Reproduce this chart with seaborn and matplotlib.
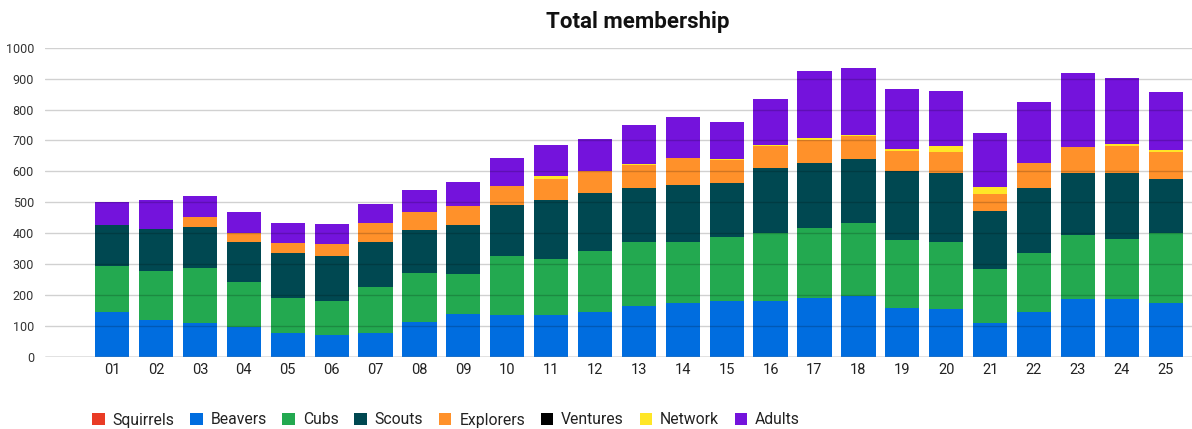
import numpy as np
import pandas as pd
import matplotlib
matplotlib.use("Agg")
import matplotlib.pyplot as plt
from matplotlib.patches import Patch
import seaborn as sns

sns.set_style("white")
plt.rcParams['font.family'] = ['Roboto', 'DejaVu Sans']

years = [f"{i:02d}" for i in range(1, 26)]

squirrels = [0] * 25
beavers = [147, 121, 111, 97, 78, 70, 79, 114, 139, 137, 137, 147, 164, 173, 180,
           180, 191, 196, 158, 156, 111, 147, 189, 186, 173]
cubs = [148, 158, 178, 144, 113, 110, 148, 158, 129, 191, 181, 196, 209, 200, 209,
        220, 225, 237, 219, 217, 175, 190, 204, 195, 227]
scouts = [131, 136, 132, 131, 144, 148, 145, 139, 158, 162, 188, 186, 175, 182, 172,
          210, 211, 207, 223, 221, 185, 211, 201, 213, 175]
explorers = [0, 0, 32, 28, 32, 36, 60, 59, 61, 62, 71, 73, 73, 87, 75,
             72, 75, 73, 66, 68, 55, 79, 85, 89, 87]
ventures = [0] * 25
network = [0, 0, 0, 0, 0, 0, 0, 0, 0, 0, 9, 0, 4, 0, 4,
           4, 6, 5, 5, 19, 24, 0, 0, 6, 7]
adults = [75, 93, 69, 68, 66, 67, 64, 70, 79, 92, 98, 103, 125, 135, 120,
          148, 217, 216, 195, 180, 175, 197, 239, 212, 188]

sections = ["Squirrels", "Beavers", "Cubs", "Scouts", "Explorers", "Ventures", "Network", "Adults"]
colors = ["#e93b25", "#006ddf", "#23a950", "#004851", "#ff912a", "#000000", "#ffe627", "#7413dc"]
series = [squirrels, beavers, cubs, scouts, explorers, ventures, network, adults]

df = pd.DataFrame(dict(zip(sections, series)), index=years)

fig = plt.figure(figsize=(11.92, 4.29), dpi=100)
ax = fig.add_axes([45 / 1192, 72 / 429, 1147 / 1192, (357 - 47.7) / 429])

# stacked bars, one seaborn call per section
bottom = np.zeros(len(years))
for name, col in zip(sections, colors):
    vals = df[name].values
    if vals.sum() > 0:
        sns.barplot(x=years, y=vals, bottom=bottom, color=col, width=0.78,
                    linewidth=0, saturation=1, ax=ax)
    bottom = bottom + vals

ax.set_ylim(0, 1000)
ax.set_xlim(-1.53, 24.6)
ax.set_yticks(range(0, 1001, 100))
ax.yaxis.grid(True, color='#000000', alpha=0.18, linewidth=1)
ax.set_axisbelow(False)
for s in ax.spines.values():
    s.set_visible(False)
ax.axhline(0, color='#999999', linewidth=1)
ax.tick_params(axis='y', labelsize=9, colors='#333333', length=0, pad=8)
ax.tick_params(axis='x', labelsize=10.5, colors='#222222', length=0, pad=4)
ax.set_xlabel('')
ax.set_ylabel('')

fig.text(638 / 1192, 1 - 22 / 429, "Total membership", ha='center', va='center',
         fontsize=16, fontweight='bold', color='#111111')

handles = [Patch(facecolor=c, edgecolor='none') for c in colors]
fig.legend(handles, sections, loc='center left', bbox_to_anchor=(78 / 1192, 1 - 420 / 429),
           ncol=8, frameon=False, fontsize=11.3, handlelength=0.8, handleheight=0.8,
           handletextpad=0.5, columnspacing=1.0, labelcolor='#222222')

plt.savefig('out.png', dpi=100)
